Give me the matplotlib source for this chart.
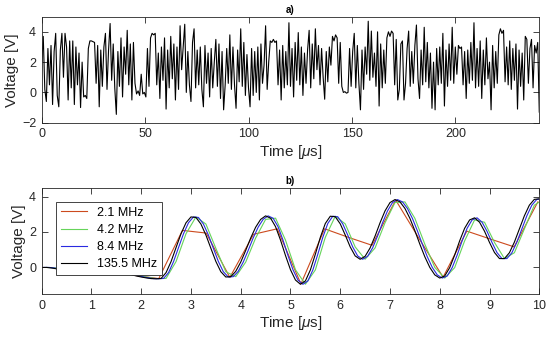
import numpy as np
import matplotlib
matplotlib.use("Agg")
import matplotlib.pyplot as plt

plt.rcParams['font.family'] = ['Liberation Sans', 'DejaVu Sans']
plt.rcParams['mathtext.fontset'] = 'custom'
plt.rcParams['mathtext.it'] = 'Liberation Sans:italic'
plt.rcParams['mathtext.rm'] = 'Liberation Sans'

# a) long record, values read every ~0.75 us
volt_long = [
    2.0, 3.7, 0.2, -0.6, 2.9, 0.5, 3.1, -0.8, 2.7, 3.9, -0.2, -0.95, 2.8, 3.9, 1.0, 3.9, 3.0, -0.5, 3.4, 0.3,
    3.4, -0.8, 3.0, 0.5, 2.6, -1.0, 2.0, -0.3, -0.2, -0.4, 2.9, 3.4, 3.4, 3.35, 3.3, 0.6, 3.1, -0.95, 2.8, 0.4,
    3.0, 3.9, 0.2, 2.8, 4.55, 0.8, 3.2, 0.3, -1.45, 2.7, 0.4, 3.6, -0.3, 3.0, 1.2, 4.1, 0.5, 3.2, -0.5, 3.3,
    0.6, -0.1, 0.1, -0.2, 1.2, -0.1, 0.0, -0.3, 2.9, 0.4, 3.6, 3.9, 3.8, 3.9, 0.5, 2.6, -0.4, 3.0, 0.8, 3.6,
    -1.1, 2.8, 0.3, 3.7, 0.9, 3.2, -0.5, 3.0, 0.2, 4.4, 1.5, 3.0, 4.5, 0.0, 2.7, 0.5, -0.6, 3.3, 4.2, 0.3,
    2.8, 0.5, 3.0, 0.2, -0.95, 3.1, 0.6, 2.6, -0.3, 2.9, 0.3, 2.0, 3.5, 0.4, 3.2, -0.4, 2.7, -1.15, 0.5, 2.9,
    0.6, 3.8, 0.2, 3.0, 0.5, -1.05, 2.8, 0.7, 4.2, 0.4, 3.3, -0.2, 2.5, 0.3, -0.95, 2.9, -0.2, 2.7, 0.0, 3.0,
    -0.5, 3.2, 0.6, 1.8, 4.4, 0.2, 2.0, 3.4, 3.3, 3.5, 3.3, 3.4, 0.5, 2.8, -0.5, 3.1, 0.3, 2.7, 0.5, 4.6,
    0.4, 2.9, -0.3, 3.3, 0.8, 3.95, 0.5, 3.0, -0.2, 2.6, 0.6, 2.8, 4.1, 0.3, 3.2, 0.9, 4.2, 1.5, 3.1, 0.5,
    2.9, 1.0, -0.45, 2.7, 0.7, 3.0, 1.8, 3.7, 3.4, 3.8, 3.6, 0.6, 3.3, 0.4, 0.0, 0.05, -0.05, 0.0, 2.9, 0.4,
    2.7, 3.9, 0.3, 3.1, 0.6, -1.15, 2.8, 0.2, 3.0, 1.2, 4.7, 0.8, 4.05, 1.0, 2.6, 0.4, 4.0, -0.9, 3.2, 0.3,
    2.8, 0.6, 3.6, 4.0, 3.7, 4.05, 3.9, 0.5, 3.5, -0.5, 0.2, 3.2, 3.4, -0.5, 0.6, 2.9, 4.05, 0.4, 2.7, 0.6,
    3.1, 4.45, 0.9, -0.4, 2.8, 0.5, 4.3, 0.7, 3.3, 0.3, 2.6, -1.05, 2.0, -1.15, 2.9, 0.5, 3.0, 0.6, 3.9, -0.9,
    2.8, 0.4, 3.2, 0.8, 4.3, 0.6, 3.0, 1.2, 3.1, 2.9, 3.0, 0.5, 2.7, -0.4, 2.8, 0.6, 3.3, 0.8, 4.6, 0.3,
    2.9, 0.4, 3.4, -0.4, 2.8, 0.5, 3.6, 0.9, 2.0, -1.15, 3.1, 0.3, 2.7, 0.6, 3.8, 4.2, 3.9, 4.1, 0.7, 3.0,
    0.5, 3.4, 0.2, 2.9, 0.8, 3.2, -1.1, 2.8, 0.4, 2.6, -0.5, 3.7, 3.5, 0.6, 2.9, 3.5, 0.3, 3.1, 2.6, 3.3,
    -1.3,
]
t_long_end = 240.5

# b) zoom on first 10 us, black trace read every 0.1 us
volt_135 = [
    0.00, 0.00, -0.03, -0.08, -0.12, -0.14, -0.12, -0.06, 0.02, 0.10,
    0.15, 0.16, 0.12, 0.05, -0.04, -0.14, -0.24, -0.33, -0.41, -0.48,
    -0.54, -0.59, -0.63, -0.64, -0.62, -0.29, 0.33, 1.12, 1.90, 2.52,
    2.85, 2.82, 2.45, 1.83, 1.08, 0.34, -0.24, -0.54, -0.52, -0.22,
    0.30, 0.96, 1.66, 2.27, 2.71, 2.91, 2.78, 2.30, 1.54, 0.67,
    -0.13, -0.71, -0.95, -0.76, -0.14, 0.75, 1.70, 2.48, 2.89, 2.86,
    2.46, 1.83, 1.16, 0.65, 0.46, 0.63, 1.10, 1.77, 2.52, 3.19,
    3.66, 3.83, 3.70, 3.33, 2.77, 2.07, 1.31, 0.60, 0.00, -0.42,
    -0.60, -0.48, -0.01, 0.70, 1.50, 2.21, 2.68, 2.80, 2.55, 2.04,
    1.41, 0.84, 0.50, 0.50, 0.83, 1.43, 2.17, 2.91, 3.51, 3.84,
    3.87,
]
dt_135 = 0.1

# 2.1 MHz samples (read at the visible corners)
volt_2m1 = [-0.1, 0.1, -0.05, -0.45, -0.63, 2.09, 1.94, -0.56, 1.87, 2.18, -0.93,
            2.18, 1.7, 1.25, 3.8, 1.6, -0.55, 2.05, 1.6, 1.16, 3.7]
t0_2m1 = 0.448
dt_2m1 = 1 / 2.1

labels = ['2.1 MHz', '4.2 MHz', '8.4 MHz', '135.5 MHz']
colors = ['#cc4a1e', '#66d45a', '#2a2ae0', 'k']

gray = '#262626'


def style(ax):
    ax.tick_params(direction='in', top=True, right=True, length=4, width=0.6,
                   labelsize=9, colors=gray, pad=4)
    for s in ax.spines.values():
        s.set_color(gray)
        s.set_linewidth(0.6)


fig = plt.figure(figsize=(5.5, 3.44), dpi=100)

ax1 = fig.add_axes([0.0758, 0.6433, 0.9047, 0.3082])
t_long = np.linspace(0, t_long_end, len(volt_long))
ax1.plot(t_long, volt_long, color='k', lw=0.8)
ax1.set_xlim(0, t_long_end)
ax1.set_ylim(-2, 5)
ax1.set_xticks([0, 50, 100, 150, 200])
ax1.set_yticks([-2, 0, 2, 4])
ax1.set_xlabel(r'Time [$\mu$s]', fontsize=11, color=gray, labelpad=2)
ax1.set_ylabel('Voltage [V]', fontsize=11, color=gray, labelpad=2)
ax1.set_title('a)', fontsize=7, fontweight='bold', pad=3)
style(ax1)

ax2 = fig.add_axes([0.0758, 0.1453, 0.9047, 0.3091])
t135 = np.arange(len(volt_135)) * dt_135
v135 = np.array(volt_135)
t2 = t0_2m1 + np.arange(len(volt_2m1)) * dt_2m1

ax2.plot(t2, volt_2m1, color=colors[0], lw=0.8, label=labels[0])
ax2.plot(t135[::2] + 0.1, v135[::2], color=colors[1], lw=0.8, label=labels[1])
ax2.plot(t135 + 0.05, v135, color=colors[2], lw=0.8, label=labels[2])
ax2.plot(t135, v135, color=colors[3], lw=0.8, label=labels[3])
ax2.set_xlim(0, 10)
ax2.set_ylim(-1.5, 4.5)
ax2.set_xticks(range(0, 11))
ax2.set_yticks([0, 2, 4])
ax2.set_xlabel(r'Time [$\mu$s]', fontsize=11, color=gray, labelpad=2)
ax2.set_ylabel('Voltage [V]', fontsize=11, color=gray, labelpad=2)
ax2.set_title('b)', fontsize=7, fontweight='bold', pad=3)
style(ax2)

leg = ax2.legend(loc='upper left', bbox_to_anchor=(0.028, 0.868), borderaxespad=0,
                 fontsize=9, handlelength=2.1, framealpha=1, fancybox=False,
                 edgecolor=gray, borderpad=0.4, labelspacing=0.42)
leg.get_frame().set_linewidth(0.6)

fig.savefig('out.png', dpi=100)
